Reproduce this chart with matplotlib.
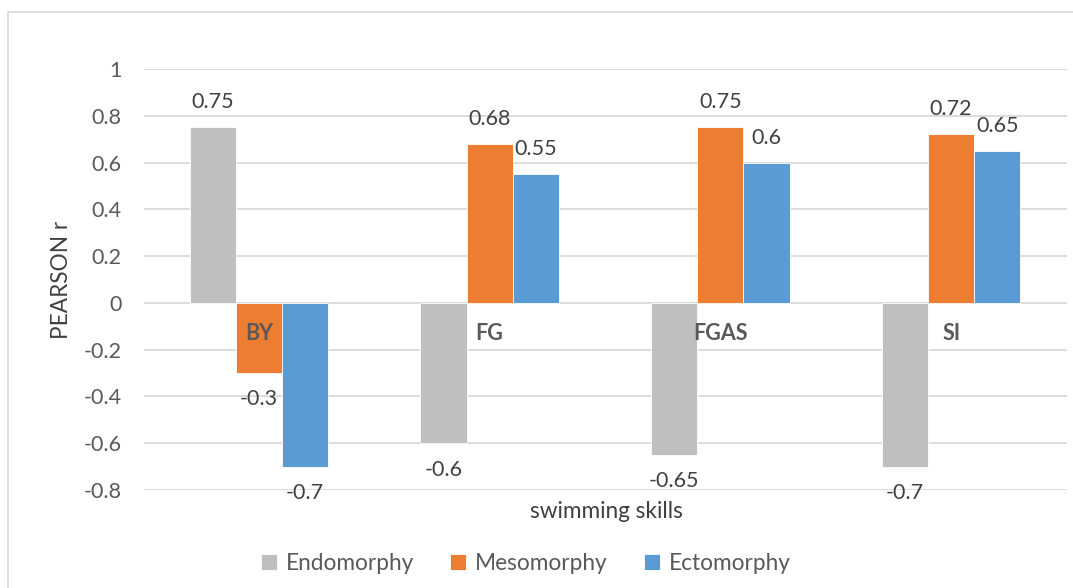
import matplotlib
matplotlib.use("Agg")
import matplotlib.pyplot as plt
import numpy as np
from matplotlib.patches import Rectangle

categories = ["BY", "FG", "FGAS", "SI"]
series_names = ["Endomorphy", "Mesomorphy", "Ectomorphy"]
endomorphy = [0.75, -0.6, -0.65, -0.7]
mesomorphy = [-0.3, 0.68, 0.75, 0.72]
ectomorphy = [-0.7, 0.55, 0.6, 0.65]
y_ticks = [-0.8, -0.6, -0.4, -0.2, 0, 0.2, 0.4, 0.6, 0.8, 1]
y_tick_labels = ["-0.8", "-0.6", "-0.4", "-0.2", "0", "0.2", "0.4", "0.6", "0.8", "1"]
colors = ["#BFBFBF", "#ED7D31", "#5B9BD5"]

plt.rcParams['font.family'] = ['Lato', 'DejaVu Sans']

W, H = 1073, 588
fig = plt.figure(figsize=(W / 100, H / 100), dpi=100)
ax = fig.add_axes([143.5 / W, 1 - 490 / H, (1066.5 - 143.5) / W, (490 - 69) / H])

NUM_FS = 15.5
TXT_FS = 16.3

x = np.arange(len(categories))
width = 0.2
all_series = [endomorphy, mesomorphy, ectomorphy]
for i, (vals, name, col) in enumerate(zip(all_series, series_names, colors)):
    pos = x + (i - 1) * width
    ax.bar(pos, vals, width, color=col, label=name, zorder=3,
           edgecolor='white', linewidth=0.6)
    for p, v in zip(pos, vals):
        off = 18 if v >= 0 else -19
        ax.annotate(f"{v:g}", (p, v), xytext=(0, off), textcoords='offset points',
                    ha='center', va='center', fontsize=NUM_FS, color='#404040', zorder=5)

for xi, cat in zip(x, categories):
    ax.annotate(cat, (xi, 0), xytext=(0, -22), textcoords='offset points',
                ha='center', va='center', fontsize=NUM_FS, fontweight='bold',
                color='#595959', zorder=4)

ax.set_xlim(-0.5, len(categories) - 0.5)
ax.set_ylim(-0.8, 1.0)
ax.set_yticks(y_ticks)
ax.set_yticklabels(y_tick_labels)
ax.set_xticks([])
ax.tick_params(axis='y', length=0, pad=16, labelsize=NUM_FS, labelcolor='#595959')
ax.grid(axis='y', color='#D9D9D9', linewidth=1.3, zorder=0)
ax.set_axisbelow(True)
for s in ax.spines.values():
    s.set_visible(False)

fig.text(61 / W, 1 - 280 / H, "PEARSON r", rotation=90, ha='center', va='center',
         fontsize=TXT_FS, color='#404040')
fig.text(606 / W, 1 - 512 / H, "swimming skills", ha='center', va='center',
         fontsize=TXT_FS, color='#404040')

leg = fig.legend(loc='center', bbox_to_anchor=(526 / W, 1 - 563 / H), ncol=3,
                 frameon=False, fontsize=TXT_FS, handlelength=0.7, handleheight=0.7,
                 handletextpad=0.4, columnspacing=1.6)
for t in leg.get_texts():
    t.set_color('#595959')

fig.add_artist(Rectangle((8 / W, -0.1), 1.2, 1 - 12 / H + 0.1, transform=fig.transFigure,
                         fill=False, edgecolor='#D9D9D9', linewidth=1.2))

fig.savefig("out.png", dpi=100, facecolor='white')
